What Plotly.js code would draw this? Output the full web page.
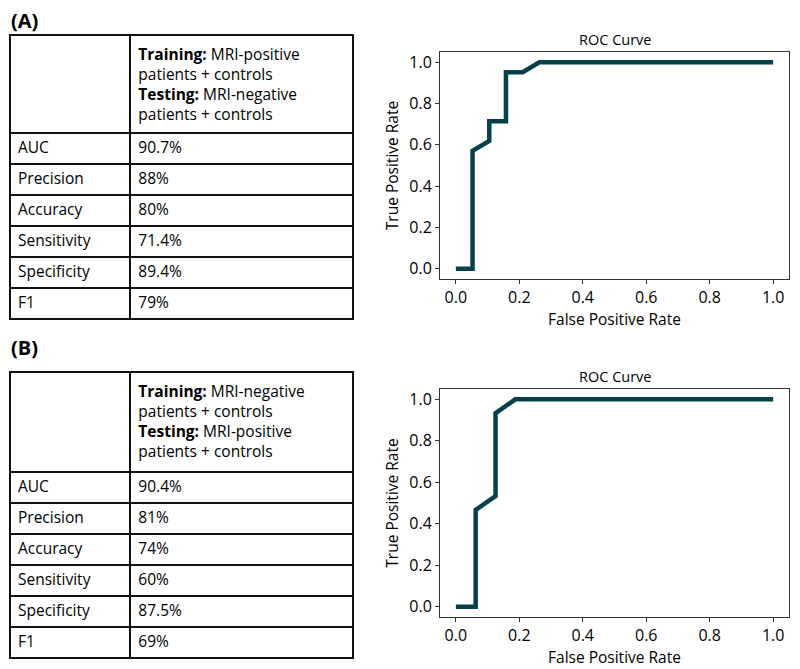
<!DOCTYPE html>
<html>
<head>
<meta charset="utf-8">
<script src="https://cdn.plot.ly/plotly-3.0.1.min.js"></script>
<style>html,body{margin:0;padding:0;background:#fff;}#chart{width:800px;height:669px;}</style>
</head>
<body>
<div id="chart"></div>
<script>
const metricNames = ["AUC", "Precision", "Accuracy", "Sensitivity", "Specificity", "F1"];
const valuesA = ["90.7%", "88%", "80%", "71.4%", "89.4%", "79%"];
const valuesB = ["90.4%", "81%", "74%", "60%", "87.5%", "69%"];
const headerA = "<b>Training:</b> MRI-positive<br>patients + controls<br><b>Testing:</b> MRI-negative<br>patients + controls";
const headerB = "<b>Training:</b> MRI-negative<br>patients + controls<br><b>Testing:</b> MRI-positive<br>patients + controls";

const fprA = [0, 0.0526, 0.0526, 0.1053, 0.1053, 0.1579, 0.1579, 0.2105, 0.2632, 1.0];
const tprA = [0, 0, 0.5714, 0.6190, 0.7143, 0.7143, 0.9524, 0.9524, 1.0, 1.0];
const fprB = [0, 0.0625, 0.0625, 0.125, 0.125, 0.1875, 1.0];
const tprB = [0, 0, 0.4667, 0.5333, 0.9333, 1.0, 1.0];

const xTicks = [0, 0.2, 0.4, 0.6, 0.8, 1.0];
const yTicks = [0, 0.2, 0.4, 0.6, 0.8, 1.0];

const W = 800, H = 669;
const FONT = "Open Sans, Noto Sans, sans-serif";
const lineColor = "#073f4b";

function py(p) { return 1 - p / H; }

function table(header, vals, top, headerH, rowH) {
  const bottom = top + headerH + rowH * 6 + 3;
  return {
    type: "table",
    domain: { x: [10 / W, 353 / W], y: [py(bottom), py(top)] },
    columnwidth: [120, 222],
    header: {
      values: [[""], [header]],
      align: "left",
      height: headerH,
      line: { color: "#111", width: 2 },
      fill: { color: "#fff" },
      font: { family: FONT, size: 15.5, color: "#000" }
    },
    cells: {
      values: [metricNames, vals],
      align: "left",
      height: rowH,
      line: { color: "#111", width: 2 },
      fill: { color: "#fff" },
      font: { family: FONT, size: 15.5, color: "#000" }
    }
  };
}

const traces = [
  table(headerA, valuesA, 35, 98, 31),
  table(headerB, valuesB, 372, 100, 31),
  { type: "scatter", mode: "lines", x: fprA, y: tprA, xaxis: "x", yaxis: "y",
    line: { color: lineColor, width: 4.5 }, hoverinfo: "skip", showlegend: false },
  { type: "scatter", mode: "lines", x: fprB, y: tprB, xaxis: "x2", yaxis: "y2",
    line: { color: lineColor, width: 4.5 }, hoverinfo: "skip", showlegend: false }
];

function xAxis(anchor) {
  return {
    domain: [440 / W, 789 / W], anchor: anchor, range: [-0.05, 1.05],
    tickvals: xTicks, ticktext: xTicks.map(v => v.toFixed(1)),
    showgrid: false, zeroline: false, showline: true, mirror: true,
    linecolor: "#333", linewidth: 1, ticks: "outside", ticklen: 4, tickcolor: "#333",
    tickfont: { family: FONT, size: 16, color: "#000" },
    title: { text: "False Positive Rate", font: { family: FONT, size: 15.5, color: "#000" }, standoff: 3 }
  };
}
function yAxis(anchor, top, bottom) {
  return {
    domain: [py(bottom), py(top)], anchor: anchor, range: [-0.05, 1.05],
    tickvals: yTicks, ticktext: yTicks.map(v => v.toFixed(1)),
    showgrid: false, zeroline: false, showline: true, mirror: true,
    linecolor: "#333", linewidth: 1, ticks: "outside", ticklen: 4, tickcolor: "#333",
    tickfont: { family: FONT, size: 16, color: "#000" },
    title: { text: "True Positive Rate", font: { family: FONT, size: 15.5, color: "#000" }, standoff: 6 }
  };
}

const layout = {
  width: W, height: H,
  margin: { l: 0, r: 0, t: 0, b: 0 },
  paper_bgcolor: "#fff", plot_bgcolor: "#fff",
  showlegend: false,
  xaxis: xAxis("y"),
  yaxis: yAxis("x", 52, 279),
  xaxis2: xAxis("y2"),
  yaxis2: yAxis("x2", 389, 617),
  annotations: [
    { text: "<b>(A)</b>", x: 9 / W, y: py(20), xref: "paper", yref: "paper", xanchor: "left", yanchor: "middle",
      showarrow: false, font: { family: FONT, size: 20, color: "#000" } },
    { text: "<b>(B)</b>", x: 9 / W, y: py(347), xref: "paper", yref: "paper", xanchor: "left", yanchor: "middle",
      showarrow: false, font: { family: FONT, size: 20, color: "#000" } },
    { text: "ROC Curve", x: 0.5, y: 1, xref: "x domain", yref: "y domain", xanchor: "center", yanchor: "bottom",
      yshift: 1, showarrow: false, font: { family: FONT, size: 14.5, color: "#000" } },
    { text: "ROC Curve", x: 0.5, y: 1, xref: "x2 domain", yref: "y2 domain", xanchor: "center", yanchor: "bottom",
      yshift: 1, showarrow: false, font: { family: FONT, size: 14.5, color: "#000" } }
  ]
};

Plotly.newPlot("chart", traces, layout, { displayModeBar: false, staticPlot: true });
</script>
</body>
</html>
